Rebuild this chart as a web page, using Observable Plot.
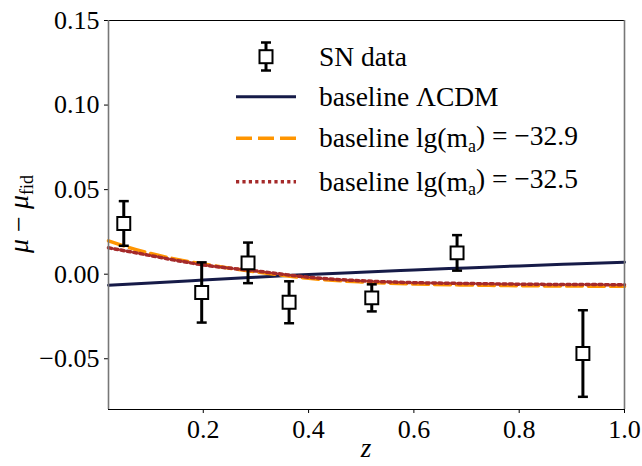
<!DOCTYPE html>
<html><head><meta charset="utf-8">
<script src="https://cdn.jsdelivr.net/npm/d3@7"></script>
<script src="https://cdn.jsdelivr.net/npm/@observablehq/plot@0.6"></script>
<style>body{margin:0;background:#fff}#chart{width:642px;height:466px}</style>
</head><body><div id="chart"></div>
<script>
// SN data points
const snZ   = [0.049, 0.197, 0.285, 0.363, 0.520, 0.682, 0.921];
const snMu  = [0.0300, -0.0108, 0.0067, -0.0166, -0.0140, 0.0126, -0.0469];
const snErr = [0.0132, 0.0178, 0.0120, 0.0124, 0.0080, 0.0105, 0.0256];

// model curves sampled along z
const curveZ   = [0.02, 0.1, 0.2, 0.3, 0.4, 0.5, 0.6, 0.7, 0.8, 0.9, 1.0];
const lcdm     = [-0.0065, -0.0052, -0.0035, -0.0018, -0.0002, 0.0012, 0.0025, 0.0037, 0.0049, 0.0060, 0.0071];
const ma329    = [0.0197, 0.0122, 0.0060, 0.0014, -0.0024, -0.0046, -0.0058, -0.0064, -0.0068, -0.0070, -0.0072];
const ma325    = [0.0156, 0.0110, 0.0055, 0.0019, -0.0018, -0.0039, -0.0050, -0.0055, -0.0059, -0.0061, -0.0062];

const xTicks = [0.2, 0.4, 0.6, 0.8, 1.0];
const yTicks = [-0.05, 0.00, 0.05, 0.10, 0.15];
const legendLabels = ["SN data", "baseline ΛCDM", "baseline lg(m|a|) = −32.9", "baseline lg(m|a|) = −32.5"];

const NAVY = "#161b48", ORANGE = "#ff9500", RED = "#a52a2a";
const FONT = "Liberation Serif, DejaVu Serif, serif";

const sn = snZ.map((z, i) => ({z, mu: snMu[i], err: snErr[i]}));
const curves = curveZ.map((z, i) => ({z, lcdm: lcdm[i], a: ma329[i], b: ma325[i]}));

const capSymbol = {draw(ctx, size) { const w = Math.sqrt(size / Math.PI); ctx.moveTo(-w, 0); ctx.lineTo(w, 0); }};
const fmtY = d => (Math.abs(d) < 1e-9 ? "0.00" : d.toFixed(2).replace("-", "−"));

const svg = Plot.plot({
  width: 642, height: 466,
  marginLeft: 108, marginRight: 18, marginTop: 20, marginBottom: 57,
  style: {fontFamily: FONT, fontSize: "26px", background: "white", color: "black"},
  x: {domain: [0.02, 1.0]},
  y: {domain: [-0.08, 0.15]},
  marks: [
    Plot.axisY({ticks: yTicks, tickFormat: fmtY, tickSize: 4, tickPadding: 5, label: null, fontSize: 26}),
    Plot.axisX({ticks: xTicks, tickFormat: d => d.toFixed(1), tickSize: 4, tickPadding: 6, label: null, fontSize: 26}),
    Plot.line(curves, {x: "z", y: "lcdm", stroke: NAVY, strokeWidth: 3, curve: "natural"}),
    Plot.line(curves, {x: "z", y: "a", stroke: ORANGE, strokeWidth: 3.5, strokeDasharray: "16 6", curve: "natural"}),
    Plot.line(curves, {x: "z", y: "b", stroke: RED, strokeWidth: 3.5, strokeDasharray: "3.2 3.2", curve: "natural"}),
    Plot.ruleX(sn, {x: "z", y1: d => d.mu - d.err, y2: d => d.mu + d.err, stroke: "black", strokeWidth: 3}),
    Plot.dot(sn, {x: "z", y: d => d.mu + d.err, symbol: capSymbol, r: 5, stroke: "black", strokeWidth: 2.5, fill: "none"}),
    Plot.dot(sn, {x: "z", y: d => d.mu - d.err, symbol: capSymbol, r: 5, stroke: "black", strokeWidth: 2.5, fill: "none"}),
    Plot.dot(sn, {x: "z", y: "mu", symbol: "square", r: 7.3, fill: "white", stroke: "black", strokeWidth: 2}),
    Plot.ruleY([0.15], {stroke: "black", strokeWidth: 1}),
    Plot.ruleY([-0.08], {stroke: "black", strokeWidth: 1.2}),
    Plot.ruleX([0.02, 1.0], {stroke: "#777", strokeWidth: 1.6})
  ]
});
document.getElementById("chart").appendChild(svg);

const s = d3.select(svg);
// y-axis label
const yl = s.append("text").attr("transform", "translate(28,214) rotate(-90)")
  .attr("text-anchor", "middle").attr("font-family", FONT).attr("font-size", 28).attr("fill", "black");
yl.append("tspan").attr("font-style", "italic").text("μ");
yl.append("tspan").text(" − ");
yl.append("tspan").attr("font-style", "italic").text("μ");
yl.append("tspan").attr("font-size", 18).attr("dy", "0.3em").text("fid");
// x-axis label
s.append("text").attr("x", 366).attr("y", 457).attr("text-anchor", "middle")
  .attr("font-family", FONT).attr("font-size", 27).attr("font-style", "italic").attr("fill", "black").text("z");

// legend
const rows = [56.7, 96.7, 138.3, 181.7];
const lg = s.append("g").attr("text-anchor", "start");
// SN marker
lg.append("line").attr("x1", 266).attr("x2", 266).attr("y1", 42.5).attr("y2", 70.5).attr("stroke", "black").attr("stroke-width", 3);
[42.5, 70.5].forEach(y => lg.append("line").attr("x1", 261).attr("x2", 271).attr("y1", y).attr("y2", y).attr("stroke", "black").attr("stroke-width", 2.5));
lg.append("rect").attr("x", 266 - 6.5).attr("y", rows[0] - 6.5).attr("width", 13).attr("height", 13).attr("fill", "white").attr("stroke", "black").attr("stroke-width", 2);
const styles = [null, {c: NAVY, w: 3, d: null}, {c: ORANGE, w: 3.5, d: "16 6"}, {c: RED, w: 3.5, d: "3.2 3.2"}];
styles.forEach((st, i) => {
  if (!st) return;
  const l = lg.append("line").attr("x1", 236).attr("x2", 296).attr("y1", rows[i]).attr("y2", rows[i])
    .attr("stroke", st.c).attr("stroke-width", st.w);
  if (st.d) l.attr("stroke-dasharray", st.d);
});
legendLabels.forEach((lab, i) => {
  const t = lg.append("text").attr("x", 319).attr("y", rows[i] + 9).attr("font-family", FONT)
    .attr("text-anchor", "start").attr("font-size", 27.5).attr("fill", "black");
  const parts = lab.split("|");
  if (parts.length === 1) { t.text(lab); return; }
  t.append("tspan").text(parts[0]);
  t.append("tspan").attr("font-size", 18).attr("dy", "0.25em").text(parts[1]);
  t.append("tspan").attr("dy", "-0.25em").text(parts[2]);
});
</script></body></html>
